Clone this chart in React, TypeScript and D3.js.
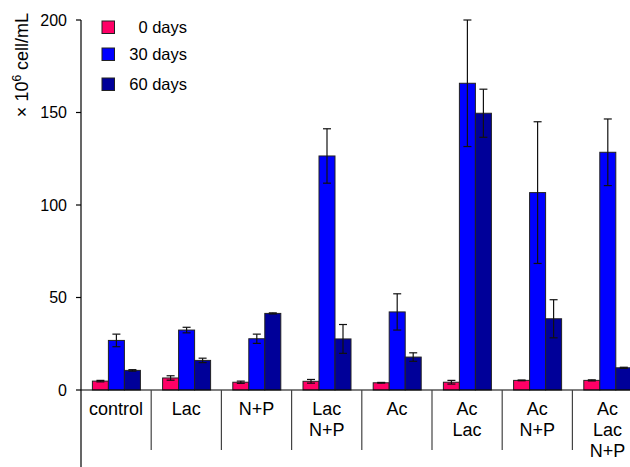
import React from 'react';
import * as d3 from 'd3';

const categories = ['control', 'Lac', 'N+P', 'Lac\nN+P', 'Ac', 'Ac\nLac', 'Ac\nN+P', 'Ac\nLac\nN+P'];
const seriesNames = ['0 days', '30 days', '60 days'];
const seriesColors = ['#ff0066', '#0000ff', '#000099'];

// mean values
const day0 = [4.8, 6.5, 4.2, 4.7, 3.9, 4.2, 5.2, 5.2];
const day30 = [26.8, 32.4, 27.7, 126.5, 42.2, 165.8, 106.7, 128.5];
const day60 = [10.6, 16.0, 41.4, 27.6, 17.8, 149.6, 38.5, 12.0];

// error bar half widths
const err0 = [0.4, 1.2, 0.6, 1.0, 0.2, 1.0, 0.2, 0.3];
const err30 = [3.4, 1.5, 2.5, 14.7, 9.8, 34.2, 38.3, 18.0];
const err60 = [0.4, 1.2, 0.3, 7.8, 2.3, 13.0, 10.3, 0.3];

const yTicks = [0, 50, 100, 150, 200];

const values = [day0, day30, day60];
const errors = [err0, err30, err60];

const FONT = 'Arial, "Liberation Sans", Helvetica, sans-serif';

export default function App() {
  const width = 630;
  const height = 467;
  const axisX = 81;
  const groupW = 70.2;

  const y = d3.scaleLinear().domain([0, 200]).range([390, 20]);
  const x = d3.scaleBand<string>()
    .domain(categories)
    .range([axisX, axisX + groupW * categories.length])
    .paddingInner(0)
    .paddingOuter(0);
  const xs = d3.scaleBand<string>()
    .domain(seriesNames)
    .range([11.4, 59.4])
    .padding(0);

  const capHalf = 4;

  return (
    <svg
      width={width}
      height={height}
      style={{ position: 'absolute', left: 0, top: 0, background: '#fff' }}
      fontFamily={FONT}
    >
      {/* bars */}
      {categories.map((cat, ci) => (
        <g key={cat} transform={`translate(${x(cat)},0)`}>
          {seriesNames.map((s, si) => {
            const v = values[si][ci];
            const e = errors[si][ci];
            const bx = xs(s)!;
            const bw = xs.bandwidth();
            const cx = bx + bw / 2;
            return (
              <g key={s}>
                <rect
                  x={bx}
                  y={y(v)}
                  width={bw}
                  height={y(0) - y(v)}
                  fill={seriesColors[si]}
                  stroke="#222"
                  strokeWidth={1}
                />
                <line x1={cx} x2={cx} y1={y(v + e)} y2={y(v - e)} stroke="#111" strokeWidth={1.2} />
                <line x1={cx - capHalf} x2={cx + capHalf} y1={y(v + e)} y2={y(v + e)} stroke="#111" strokeWidth={1.2} />
                <line x1={cx - capHalf} x2={cx + capHalf} y1={y(v - e)} y2={y(v - e)} stroke="#111" strokeWidth={1.2} />
              </g>
            );
          })}
        </g>
      ))}

      {/* x axis baseline */}
      <line x1={axisX} x2={width} y1={y(0)} y2={y(0)} stroke="#000" strokeWidth={1.2} />

      {/* group dividers and labels */}
      {categories.map((cat, ci) => {
        const gx = x(cat)!;
        const lines = cat.split('\n');
        return (
          <g key={cat}>
            {ci > 0 && (
              <line x1={gx} x2={gx} y1={y(0)} y2={450} stroke="#444" strokeWidth={1.2} />
            )}
            <text
              x={gx + x.bandwidth() / 2}
              y={415}
              textAnchor="middle"
              fontSize={18}
              fill="#000"
            >
              {lines.map((l, li) => (
                <tspan key={li} x={gx + x.bandwidth() / 2} dy={li === 0 ? 0 : 21}>{l}</tspan>
              ))}
            </text>
          </g>
        );
      })}

      {/* y axis */}
      <line x1={axisX} x2={axisX} y1={y(200)} y2={height} stroke="#000" strokeWidth={1.2} />
      {yTicks.map(t => (
        <g key={t}>
          <line x1={axisX - 5} x2={axisX} y1={y(t)} y2={y(t)} stroke="#000" strokeWidth={1.2} />
          <text x={67} y={y(t)} dy="0.35em" textAnchor="end" fontSize={16} fill="#000">{t}</text>
        </g>
      ))}

      {/* y axis title */}
      <text
        transform={`translate(28,65) rotate(-90)`}
        textAnchor="middle"
        fontSize={18}
        fill="#000"
      >
        × 10<tspan dy={-7} fontSize={12}>6</tspan><tspan dy={7}> cell/mL</tspan>
      </text>

      {/* legend */}
      {seriesNames.map((s, si) => {
        const ly = [27, 54, 84][si];
        return (
          <g key={s}>
            <rect x={102} y={ly - 6} width={12.5} height={12.5} fill={seriesColors[si]} stroke="#222" strokeWidth={1} />
            <text x={187} y={ly} dy="0.35em" textAnchor="end" fontSize={16.5} fill="#000">{s}</text>
          </g>
        );
      })}
    </svg>
  );
}
